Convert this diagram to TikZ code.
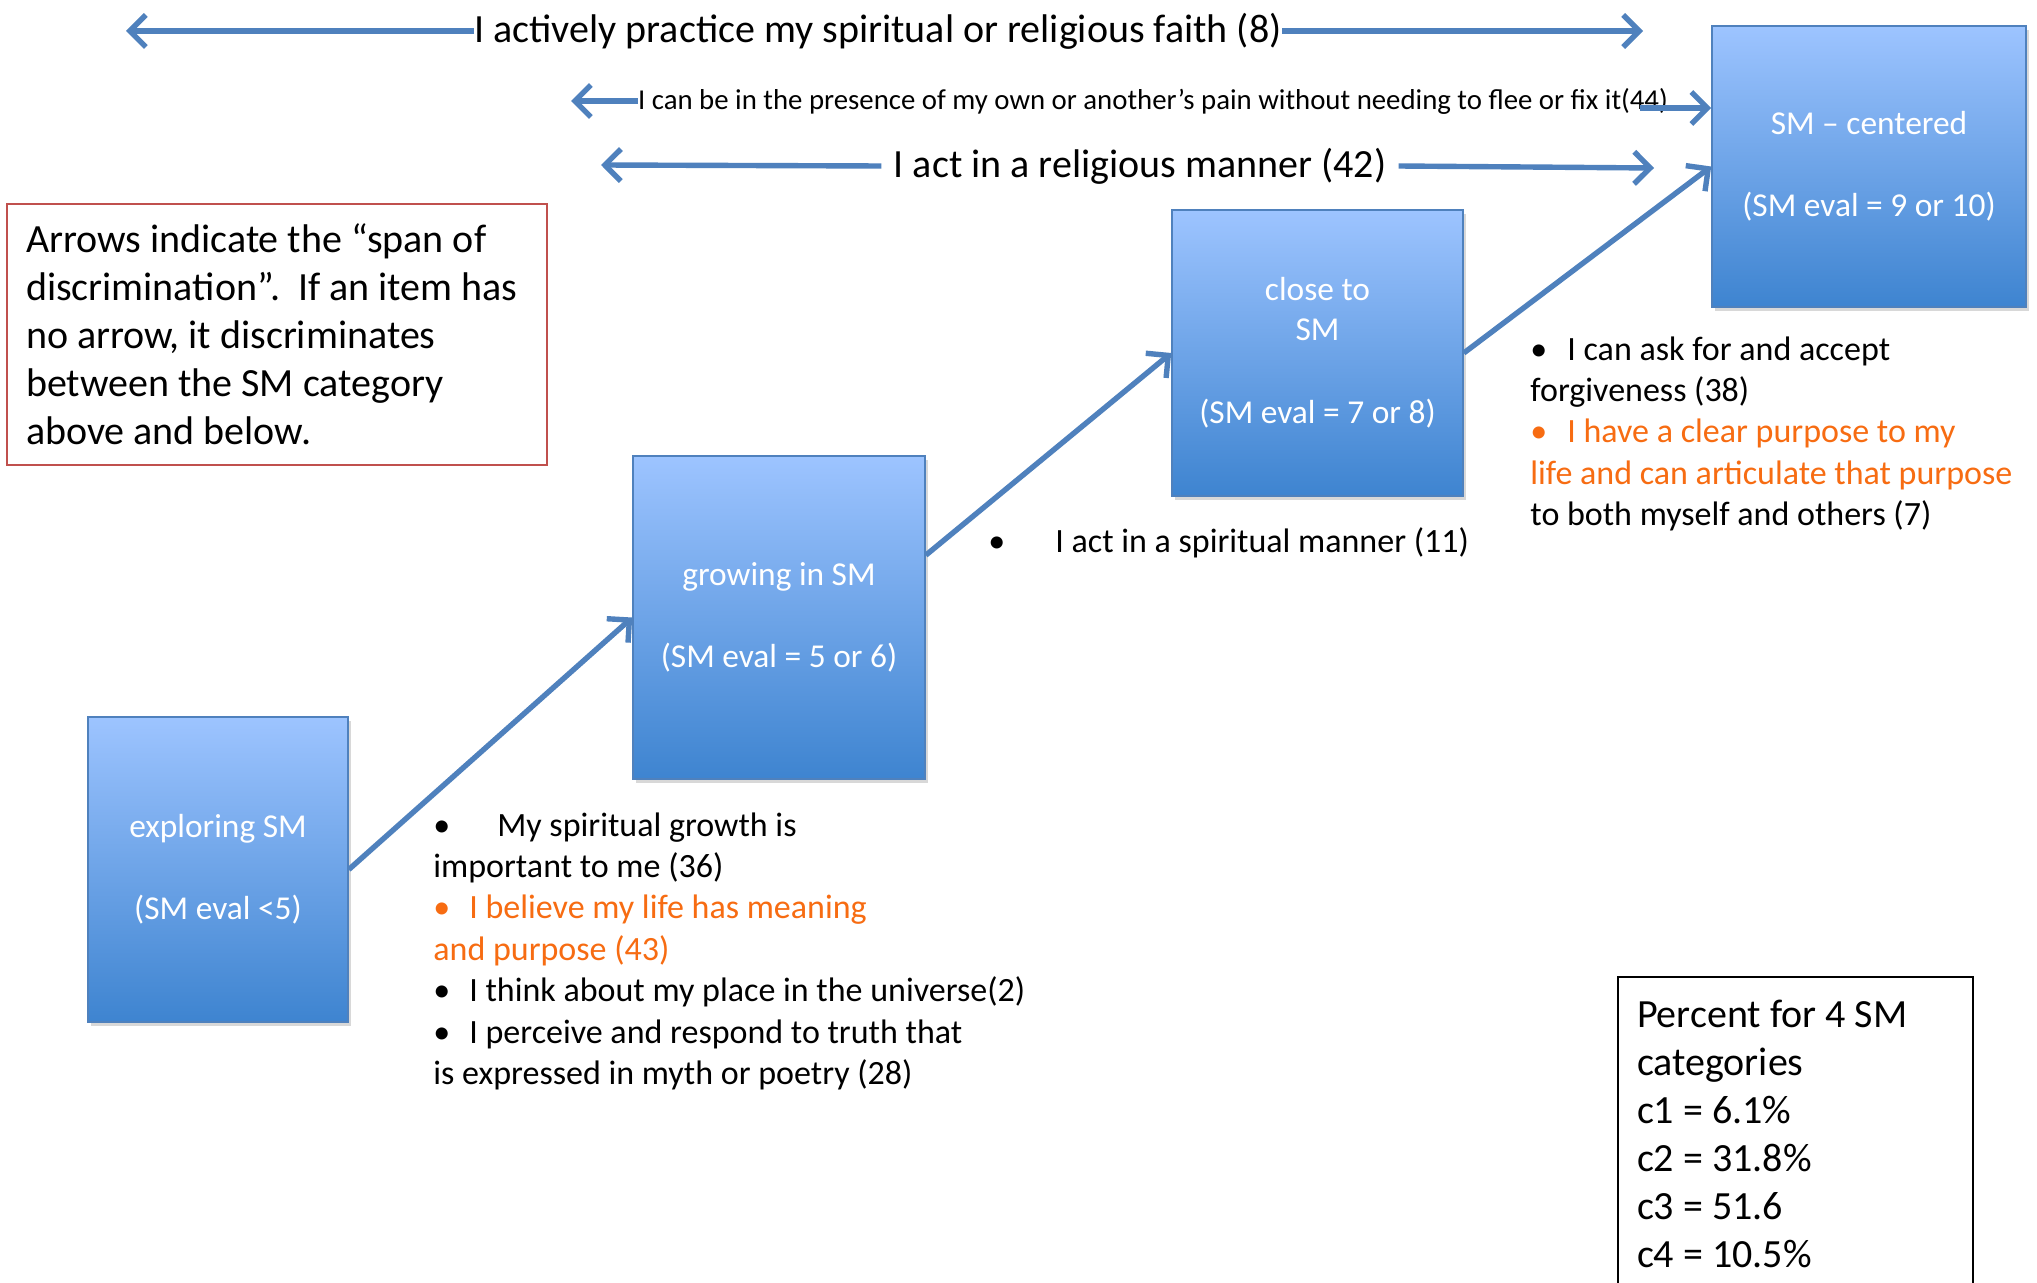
\documentclass[tikz,border=0pt]{standalone}
\usepackage{fontspec}
\setmainfont{Carlito}
\usepackage{tikz}
\usetikzlibrary{arrows.meta,positioning,shadows}
\definecolor{arrowblue}{RGB}{79,129,189}
\definecolor{boxtop}{RGB}{157,196,255}
\definecolor{boxbot}{RGB}{62,132,208}
\definecolor{itemorange}{RGB}{247,108,18}
\definecolor{notered}{RGB}{192,80,77}
\newcommand\plainspaces{\spaceskip=0pt\xspaceskip=0pt\relax}

\begin{document}
\begin{tikzpicture}[
  x=0.5pt, y=-0.5pt,
  smbox/.style={draw=arrowblue, line width=0.8pt, top color=boxtop, bottom color=boxbot,
                text=white, align=center, font=\fontsize{16.7}{20}\selectfont,
                drop shadow={shadow xshift=1.5pt, shadow yshift=-2pt, opacity=0.3}},
  ar/.style={draw=arrowblue, line width=2.7pt, -{Straight Barb[length=8pt,width=16pt]}},
  spanlabel/.style={font=\fontsize{20}{24}\selectfont, inner sep=0pt},
  itemlist/.style={font=\fontsize{17}{20.7}\selectfont, align=left, inner sep=0pt},
  infobox/.style={draw, line width=1pt, font=\fontsize{20}{24}\selectfont, align=left,
                  inner xsep=9.5pt, anchor=north west}
]
\useasboundingbox (0,0) rectangle (2037,1283);
\fill[white] (0,0) rectangle (2037,1283);

\node[smbox, minimum width=130pt, minimum height=152.5pt] (explore) at (218,869.5) {exploring SM\\[21pt](SM eval <5)};
\node[smbox, minimum width=146pt, minimum height=161.5pt] (grow) at (779,617.5) {growing in SM\\[21pt](SM eval = 5 or 6)};
\node[smbox, minimum width=145.5pt, minimum height=143pt] (close) at (1317.5,353) {close to\\SM\\[21.5pt](SM eval = 7 or 8)};
\node[smbox, minimum width=157pt, minimum height=140.5pt] (centered) at (1869,166.5) {SM – centered\\[21pt](SM eval = 9 or 10)};

\draw[ar] (explore.east) -- (grow.west);
\draw[ar] (grow.23) -- (close.west);
\draw[ar] (close.east) -- (centered.west);

\node[spanlabel] (faith) at (878,31) {I actively practice my spiritual or religious faith (8)};
\coordinate (faithL) at (126,31);
\coordinate (faithR) at (1643,31);
\draw[ar] (faith.west) -- (faithL);
\draw[ar] (faith.east) -- (faithR);

\node[font=\fontsize{14.4}{17}\selectfont, inner sep=0pt] (pain) at (1153,101) {I can be in the presence of my own or another’s pain without needing to flee or fix it(44)};
\coordinate (painL) at (571,101);
\coordinate (painR) at (1640,108);
\draw[ar] (pain.west) -- (painL);
\draw[ar] (painR) -- (painR -| centered.west);

\node[spanlabel, inner xsep=6pt] (relig) at (1140,166) {I act in a religious manner (42)};
\coordinate (religL) at (601,165);
\coordinate (religR) at (1654,168);
\draw[ar] (relig.west) -- (religL);
\draw[ar] (relig.east) -- (religR);

\node[infobox, draw=notered, minimum width=270pt, minimum height=130.5pt, text width=251pt] (note) at (6,203)
  {\plainspaces Arrows indicate the “span of\\discrimination”.\ \ If an item has\\no arrow, it discriminates\\between the SM category\\above and below.};

\node[infobox, minimum width=177.5pt, minimum height=157pt, text width=158.5pt] (pct) at (1617,976)
  {\plainspaces Percent for 4 SM\\categories\\c1 = 6.1\%\\c2 = 31.8\%\\c3 = 51.6\\c4 = 10.5\%};

\node[itemlist, anchor=north west] (growlist) at (433,812)
  {•\hspace{23.5pt}My spiritual growth is\\important to me (36)\\
   \textcolor{itemorange}{•\hspace{9.5pt}I believe my life has meaning}\\
   \textcolor{itemorange}{and purpose (43)}\\
   •\hspace{9.5pt}I think about my place in the universe(2)\\
   •\hspace{9.5pt}I perceive and respond to truth that\\
   is expressed in myth or poetry (28)};

\node[itemlist, anchor=west] (closelist) at (988,543) {•\hspace{25pt}I act in a spiritual manner (11)};

\node[itemlist, anchor=north west] (centerlist) at (1530,336)
  {•\hspace{10pt}I can ask for and accept\\forgiveness (38)\\
   \textcolor{itemorange}{•\hspace{10pt}I have a clear purpose to my}\\
   \textcolor{itemorange}{life and can articulate that purpose}\\
   to both myself and others (7)};
\end{tikzpicture}
\end{document}
